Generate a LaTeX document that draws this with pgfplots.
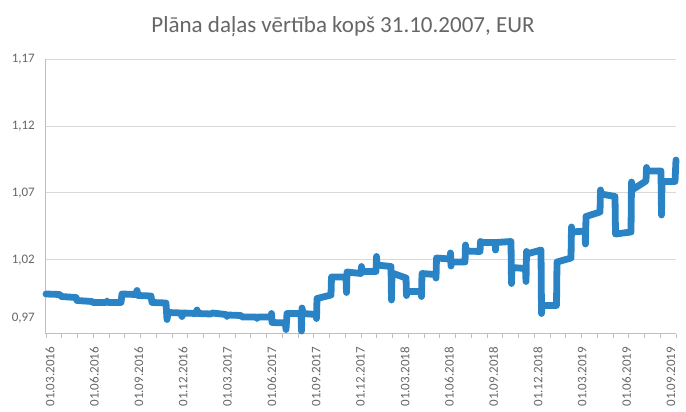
\documentclass[border=0pt]{standalone}
\usepackage{fontspec}
\setmainfont{Carlito}
\usepackage{pgfplots}
\pgfplotsset{compat=1.18}
\definecolor{txt}{HTML}{666666}
\definecolor{grd}{HTML}{D9D9D9}
\definecolor{axl}{HTML}{BFBFBF}
\definecolor{ser}{RGB}{41,131,196}
\begin{document}
\begin{tikzpicture}[x=1pt,y=1pt]
\useasboundingbox (0,0) rectangle (686,412);
\node[font=\fontsize{23}{23}\selectfont, text=txt] at (343,385) {Plāna daļas vērtība kopš 31.10.2007, EUR};
\begin{axis}[
  at={(46pt,78pt)}, anchor=south west,
  scale only axis, width=630pt, height=274.7pt,
  xmin=0, xmax=630, ymin=0.96439, ymax=1.17,
  axis x line*=bottom, axis y line*=left,
  axis line style={axl, line width=1pt},
  ymajorgrids, major grid style={grd, line width=1pt},
  ytick={1.02,1.07,1.12,1.17},
  yticklabels={{1,02},{1,07},{1,12},{1,17}},
  extra y ticks={0.97637},
  extra y tick labels={0{,}97},
  extra y tick style={grid=none},
  xtick={4,48.36,92.71,137.07,181.43,225.79,270.14,314.5,358.86,403.21,447.57,491.93,536.29,580.64,625},
  xticklabels={01.03.2016,01.06.2016,01.09.2016,01.12.2016,01.03.2017,01.06.2017,01.09.2017,01.12.2017,01.03.2018,01.06.2018,01.09.2018,01.12.2018,01.03.2019,01.06.2019,01.09.2019},
  minor xtick={0,15.75,...,630},
  major tick length=0pt, minor tick length=4.3pt, tick align=outside,
  tick style={axl, line width=0.8pt},
  every tick label/.append style={font=\fontsize{13}{13}\selectfont, text=txt, inner sep=0pt},
  xticklabel style={rotate=90, anchor=east},
  xticklabel shift=13pt,
  yticklabel shift=11pt,
  clip=false,
]
\addplot[ser, line width=6.8pt, line join=round, line cap=round] coordinates {
(0,0.99433) (14,0.99395) (15,0.99246) (30,0.99171) (31,0.98946) (46,0.98871)
(47,0.98797) (60,0.98797) (61,0.98909) (62,0.98797) (75,0.98797) (76,0.99433)
(90,0.99395) (91,0.99695) (92,0.99320) (105,0.99283) (106,0.98797) (120,0.98759)
(121,0.97524) (122,0.98048) (135,0.98011) (136,0.97749) (137,0.98011) (150,0.97973)
(151,0.98235) (152,0.97973) (165,0.97936) (166,0.98011) (180,0.97898) (181,0.97749)
(182,0.97861) (195,0.97823) (196,0.97711) (210,0.97711) (211,0.97599) (212,0.97711)
(225,0.97711) (225.5,0.97973) (226,0.97300) (239.5,0.97262) (240,0.96776) (241,0.97973)
(255,0.97973) (255.5,0.96663) (256,0.98385) (257,0.97973) (270,0.97898) (270.5,0.97599)
(271,0.99096) (285,0.99358) (285.5,1.00705) (300,1.00705) (300.5,0.99545) (301,1.01079)
(315,1.00967) (315.5,1.01491) (316,1.01117) (330,1.01117) (330.5,1.02240) (331,1.01603)
(345,1.01491) (345.5,0.98984) (346,1.01005) (360,1.00630) (360.5,0.99320) (361,0.99620)
(375,0.99620) (375.5,0.99246) (376,1.00967) (389.5,1.00892) (390,1.00630) (390.5,1.02127)
(404,1.02052) (404.5,1.02502) (405,1.01529) (405.5,1.01828) (419,1.01828) (419.5,1.03100)
(420,1.02651) (434,1.02614) (434.5,1.03362) (435,1.03288) (449,1.03288) (449.5,1.02726)
(450,1.03288) (465,1.03362) (465.5,1.00219) (466,1.01416) (479.5,1.01341) (480,1.00368)
(480.5,1.02614) (481,1.02427) (495,1.02726) (495.5,0.97973) (496,0.98572) (510.5,0.98572)
(511,1.01828) (525,1.02127) (525.5,1.04448) (526,1.04073) (539,1.04148) (539.5,1.03175)
(540,1.05234) (554,1.05570) (554.5,1.07217) (555,1.06918) (569,1.06731) (569.5,1.03924)
(585,1.04073) (585.5,1.07816) (586,1.07217) (600,1.07891) (600.5,1.08901) (601,1.08639)
(615,1.08639) (615.5,1.05346) (616,1.07853) (629,1.07853) (630,1.09463)
};
\end{axis}
\end{tikzpicture}
\end{document}
